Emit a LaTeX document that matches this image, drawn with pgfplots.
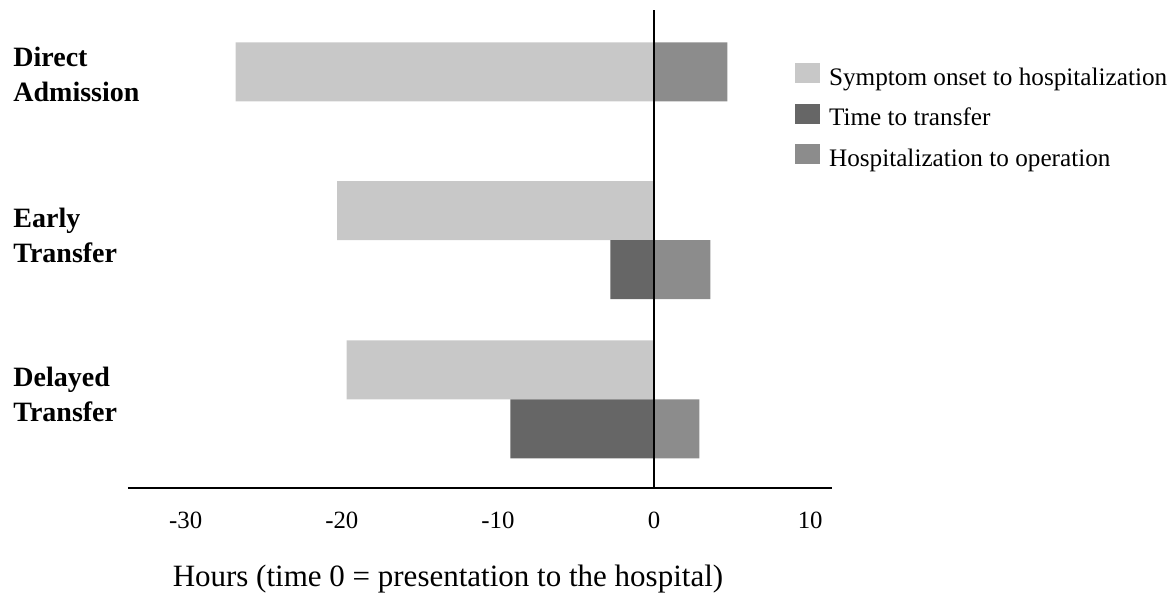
\documentclass[border=0pt]{standalone}
\usepackage{pgfplots}
\pgfplotsset{compat=1.18}
\usepackage{fontspec}
\setmainfont{Liberation Serif}

\definecolor{onset}{HTML}{C8C8C8}
\definecolor{transfer}{HTML}{666666}
\definecolor{hospop}{HTML}{8C8C8C}

\begin{document}
\begin{tikzpicture}
  % page = 1176x594 px at 0.5pt per px; axis box starts at px (128,488)
  \useasboundingbox (-64pt,-53pt) rectangle (524pt,244pt);
  \begin{axis}[
    at={(0pt,0pt)}, anchor=south west,
    scale only axis,
    width=352pt, height=239pt,
    xmin=-33.7, xmax=11.4,
    ymin=0, ymax=8.1,
    axis x line=bottom,
    axis y line=none,
    x axis line style={-, line width=0.75pt},
    xtick={-30,-20,-10,0,10},
    xticklabels={-30,-20,-10,0,10},
    major tick length=0pt,
    xticklabel style={font=\fontsize{12.4}{14}\selectfont, anchor=base, yshift=-20pt},
    xlabel={Hours (time 0 = presentation to the hospital)},
    every axis x label/.style={at={(rel axis cs:0.4545,0)}, anchor=base,
      yshift=-49pt, font=\fontsize{15.5}{18}\selectfont},
    legend style={at={(0.947,0.889)}, anchor=north west, draw=none,
      fill=none, inner sep=0pt, row sep=6.25pt, column sep=4.5pt,
      nodes={inner sep=0pt, font=\fontsize{12.6}{14}\selectfont,
        text height=10pt, text depth=3pt, anchor=base west}},
    legend cell align=left,
    legend image code/.code={\fill[#1, draw=none] (0pt,1pt) rectangle (12.5pt,11pt);},
    clip=false,
  ]
    % symptom onset to hospitalization
    \addplot[xbar, bar width=1, fill=onset, draw=none] coordinates {
      (-26.8,7.05) (-20.3,4.7) (-19.7,2.0)
    };
    % time to transfer
    \addplot[xbar, bar width=1, fill=transfer, draw=none] coordinates {
      (-2.8,3.7) (-9.2,1.0)
    };
    % hospitalization to operation
    \addplot[xbar, bar width=1, fill=hospop, draw=none] coordinates {
      (4.7,7.05) (3.6,3.7) (2.9,1.0)
    };
    \legend{Symptom onset to hospitalization, Time to transfer, Hospitalization to operation}

    \draw[line width=0.75pt] (axis cs:0,0) -- (axis cs:0,8.1);

    \tikzset{cat/.style={anchor=base west, xshift=-57.5pt, inner sep=0pt,
      font=\fontsize{14}{17.5}\selectfont\bfseries}}
    \node[cat] at (axis cs:-33.7,7.136) {Direct};
    \node[cat] at (axis cs:-33.7,6.542) {Admission};
    \node[cat] at (axis cs:-33.7,4.412) {Early};
    \node[cat] at (axis cs:-33.7,3.819) {Transfer};
    \node[cat] at (axis cs:-33.7,1.712) {Delayed};
    \node[cat] at (axis cs:-33.7,1.119) {Transfer};
  \end{axis}
\end{tikzpicture}
\end{document}
